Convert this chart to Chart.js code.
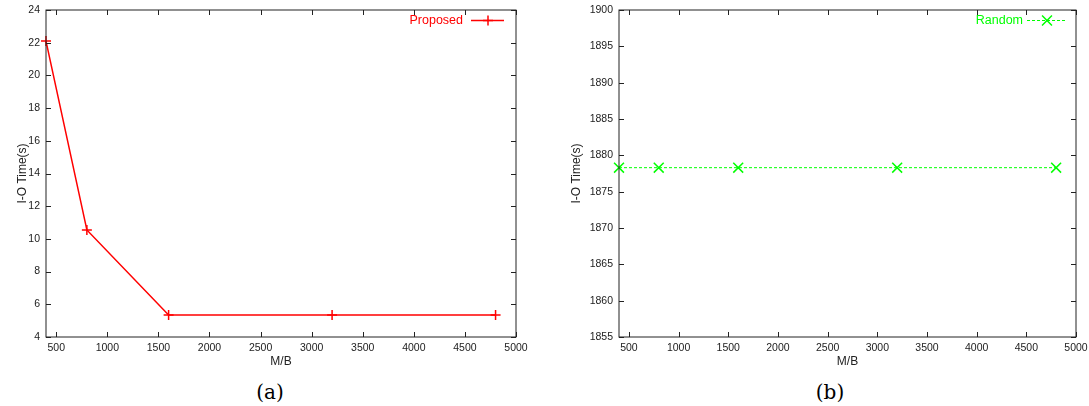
<!DOCTYPE html>
<html>
<head>
<meta charset="utf-8">
<script src="https://cdn.jsdelivr.net/npm/chart.js@4/dist/chart.umd.min.js"></script>
<style>
  body { margin: 0; background: #fff; width: 1089px; height: 406px; overflow: hidden; position: relative; }
  .box { position: absolute; top: 0; }
  .cap { position: absolute; top: 380px; font-family: "DejaVu Serif", "Liberation Serif", serif; font-size: 20px; color: #000; transform: translateX(-50%); }
</style>
</head>
<body>
<div class="box" style="left:0"><canvas id="ca" width="545" height="375"></canvas></div>
<div class="box" style="left:545px"><canvas id="cb" width="544" height="375"></canvas></div>
<div class="cap" style="left:270px">(a)</div>
<div class="cap" style="left:830px">(b)</div>
<script>
const mbValues = [400, 800, 1600, 3200, 4800]
const proposedTimes = [22.1, 10.55, 5.35, 5.35, 5.35]
const randomTimes = [1878.3, 1878.3, 1878.3, 1878.3, 1878.3]
const xRange = [400, 5000]
const xTickValues = [500, 1000, 1500, 2000, 2500, 3000, 3500, 4000, 4500, 5000]
const yRangeA = [4, 24]
const yRangeB = [1855, 1900]

// gnuplot style frame with inward ticks on all four sides
const framePlugin = {
    id: 'gpFrame',
    afterDraw(chart) {
        const {ctx, chartArea: a, scales} = chart
        ctx.save()
        ctx.strokeStyle = '#222'
        ctx.lineWidth = 1
        ctx.strokeRect(a.left, a.top, a.right - a.left, a.bottom - a.top)
        ctx.beginPath()
        scales.x.ticks.forEach(t => {
            const px = Math.round(scales.x.getPixelForValue(t.value)) + 0.5
            ctx.moveTo(px, a.bottom); ctx.lineTo(px, a.bottom - 5)
            ctx.moveTo(px, a.top); ctx.lineTo(px, a.top + 5)
        })
        scales.y.ticks.forEach(t => {
            const py = Math.round(scales.y.getPixelForValue(t.value)) + 0.5
            ctx.moveTo(a.left, py); ctx.lineTo(a.left + 5, py)
            ctx.moveTo(a.right, py); ctx.lineTo(a.right - 5, py)
        })
        ctx.stroke()

        // legend: text then line sample with marker
        const lg = chart.options.plugins.gpLegend
        const ds = chart.data.datasets[0]
        const y = a.top + 10.5
        ctx.fillStyle = ds.borderColor
        ctx.font = '12.5px "Liberation Sans", Arial, sans-serif'
        ctx.textAlign = 'right'
        ctx.textBaseline = 'middle'
        ctx.fillText(ds.label, a.right - lg.textGap, y)
        ctx.strokeStyle = ds.borderColor
        ctx.lineWidth = ds.borderWidth
        ctx.setLineDash(ds.borderDash || [])
        ctx.beginPath()
        ctx.moveTo(a.right - lg.lineStart, y); ctx.lineTo(a.right - lg.lineEnd, y)
        ctx.stroke()
        ctx.setLineDash([])
        const mx = a.right - lg.marker
        const r = ds.pointRadius
        ctx.lineWidth = ds.pointBorderWidth
        ctx.beginPath()
        if (ds.pointStyle === 'cross') {
            ctx.moveTo(mx - r, y); ctx.lineTo(mx + r, y)
            ctx.moveTo(mx, y - r); ctx.lineTo(mx, y + r)
        } else {
            const d = r * 0.707
            ctx.moveTo(mx - d, y - d); ctx.lineTo(mx + d, y + d)
            ctx.moveTo(mx - d, y + d); ctx.lineTo(mx + d, y - d)
        }
        ctx.stroke()
        ctx.restore()
    }
}

const tickFont = { family: '"Liberation Sans", Arial, sans-serif', size: 10.5 }
const titleFont = { family: '"Liberation Sans", Arial, sans-serif', size: 12 }

function makeChart(id, label, values, color, yRange, step, opts) {
    return new Chart(document.getElementById(id), {
        type: 'line',
        data: {
            datasets: [{
                label: label,
                data: mbValues.map((m, i) => ({x: m, y: values[i]})),
                borderColor: color,
                backgroundColor: color,
                borderWidth: opts.lineWidth,
                borderDash: opts.dash,
                pointStyle: opts.point,
                pointRadius: opts.radius,
                pointBorderWidth: opts.pointWidth,
                pointBorderColor: color,
                fill: false,
                tension: 0,
                clip: false
            }]
        },
        options: {
            responsive: false,
            animation: false,
            layout: { padding: { top: 10, right: opts.padRight, left: 0, bottom: 0 } },
            plugins: {
                legend: { display: false },
                tooltip: { enabled: false },
                gpLegend: opts.legend
            },
            scales: {
                x: {
                    type: 'linear',
                    min: xRange[0],
                    max: xRange[1],
                    grid: { display: false, drawTicks: false },
                    border: { display: false },
                    afterBuildTicks: s => { s.ticks = xTickValues.map(v => ({ value: v })) },
                    ticks: { autoSkip: false, padding: 5, color: '#222', font: tickFont, maxRotation: 0, callback: v => String(v) },
                    title: { display: true, text: 'M/B', color: '#222', font: titleFont, padding: { top: 0, bottom: 6 } },
                    afterFit: s => { s.height = 38; s.paddingLeft = 0; s.paddingRight = 0 }
                },
                y: {
                    min: yRange[0],
                    max: yRange[1],
                    grid: { display: false, drawTicks: false },
                    border: { display: false },
                    ticks: { stepSize: step, padding: 6, color: '#222', font: tickFont, callback: v => String(v) },
                    title: { display: true, text: 'I-O Time(s)', color: '#222', font: titleFont, padding: { top: opts.titlePad, bottom: 0 } },
                    afterFit: s => { s.width = opts.axisWidth; s.paddingTop = 0; s.paddingBottom = 0 }
                }
            }
        },
        plugins: [framePlugin]
    })
}

makeChart('ca', 'Proposed', proposedTimes, '#ff0000', yRangeA, 2, {
    lineWidth: 1.5, dash: [], point: 'cross', radius: 5, pointWidth: 1.5,
    padRight: 29, axisWidth: 46, titlePad: 15,
    legend: { textGap: 53, lineStart: 45, lineEnd: 12, marker: 28 }
})
makeChart('cb', 'Random', randomTimes, '#00ff00', yRangeB, 5, {
    lineWidth: 1, dash: [3, 2], point: 'crossRot', radius: 7, pointWidth: 1.5,
    padRight: 13, axisWidth: 74, titlePad: 24,
    legend: { textGap: 53, lineStart: 49, lineEnd: 10, marker: 29 }
})
</script>
</body>
</html>
